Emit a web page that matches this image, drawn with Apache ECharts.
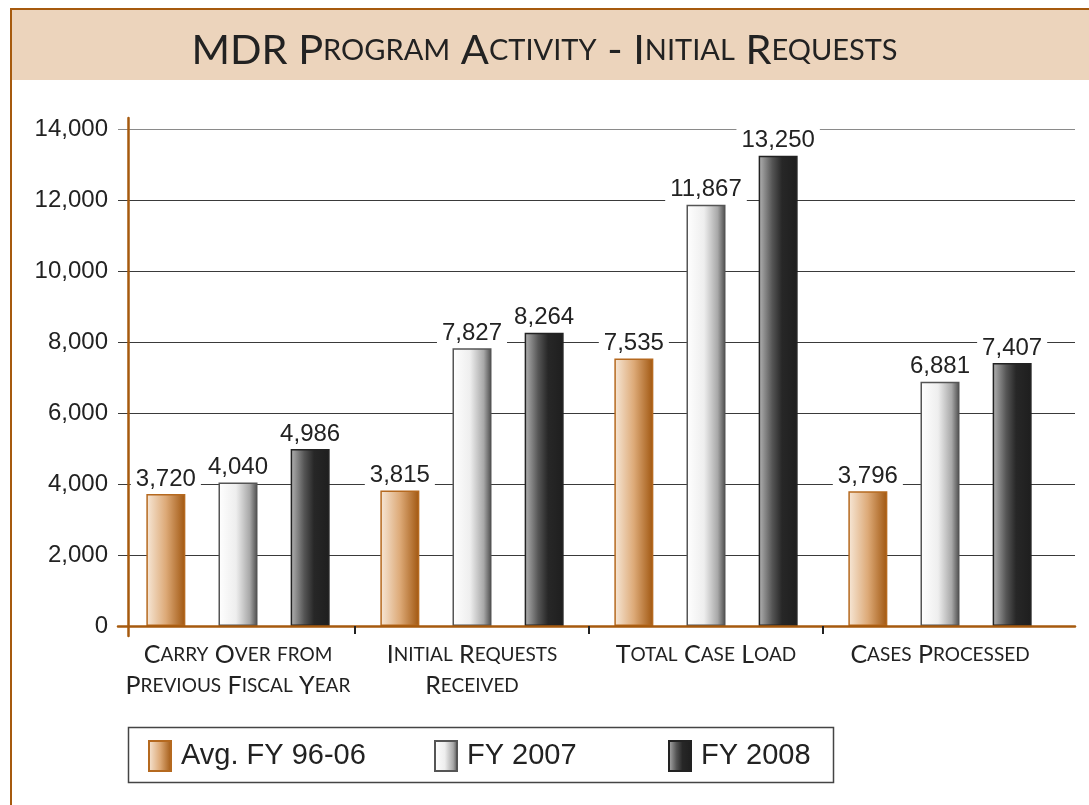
<!DOCTYPE html>
<html>
<head>
<meta charset="utf-8">
<script src="https://cdn.jsdelivr.net/npm/echarts@6/dist/echarts.min.js"></script>
<style>html,body{margin:0;padding:0;background:#fff;}#c{width:1089px;height:805px;}</style>
</head>
<body>
<div id="c"></div>
<script>
const titleText = 'MDR Program Activity - Initial Requests';
const categories = ['Carry Over from\nPrevious Fiscal Year', 'Initial Requests\nReceived', 'Total Case Load', 'Cases Processed'];
const seriesNames = ['Avg. FY 96-06', 'FY 2007', 'FY 2008'];
const avgValues = [3720, 3815, 7535, 3796];
const fy2007Values = [4040, 7827, 11867, 6881];
const fy2008Values = [4986, 8264, 13250, 7407];
const yMin = 0, yMax = 14000, yStep = 2000;

function smallCaps(str) {
  return str.split('\n').map(function (line) {
    let out = '', buf = '', mode = null;
    for (const ch of line) {
      const m = (ch >= 'a' && ch <= 'z') ? 's' : 'c';
      if (m !== mode) { if (buf) out += '{' + mode + '|' + buf + '}'; buf = ''; mode = m; }
      buf += ch.toUpperCase();
    }
    if (buf) out += '{' + mode + '|' + buf + '}';
    return out;
  }).join('\n');
}

const BROWN = '#A65A0E';
const SANS = '"Liberation Sans", Arial, sans-serif';
const FUT = 'Lato, "Noto Sans", sans-serif';

function grad(stops) {
  return { type: 'linear', x: 0, y: 0, x2: 1, y2: 0, colorStops: stops.map(function (s) { return { offset: s[0], color: s[1] }; }) };
}
const styles = [
  { color: grad([[0, '#F7E8D8'], [0.5, '#DDAA78'], [1, '#A0560F']]), borderColor: '#B5691F', borderWidth: 1.5 },
  { color: grad([[0, '#FFFFFF'], [0.45, '#EEEEEE'], [0.8, '#A8A8A8'], [1, '#4A4A4A']]), borderColor: '#555555', borderWidth: 1.5 },
  { color: grad([[0, '#B4B4B4'], [0.35, '#555555'], [0.6, '#272727'], [1, '#1E1E1E']]), borderColor: '#222222', borderWidth: 1.5 }
];
const valueSets = [avgValues, fy2007Values, fy2008Values];
const legendLefts = [148, 434, 668];

const splitColors = [];
for (let v = yMin; v <= yMax; v += yStep) splitColors.push(v === yMax ? '#8a8a8a' : '#3a3a3a');

// inner category boundaries (between categories 1..n-1), used only for separator ticks
const boundaryMin = 1, boundaryMax = categories.length - 1;

const chart = echarts.init(document.getElementById('c'), null, { renderer: 'canvas' });
chart.setOption({
  backgroundColor: '#ffffff',
  animation: false,
  graphic: [
    { type: 'rect', z: -10, shape: { x: 12, y: 10, width: 1077, height: 70 }, style: { fill: '#ECD4BC' } },
    { type: 'rect', z: -5, shape: { x: 10, y: 8, width: 1079, height: 2 }, style: { fill: BROWN } },
    { type: 'rect', z: -5, shape: { x: 10, y: 8, width: 2, height: 797 }, style: { fill: BROWN } },
    { type: 'rect', z: -5, shape: { x: 128.5, y: 727.5, width: 705, height: 55 }, style: { fill: 'none', stroke: '#444', lineWidth: 1.5 } }
  ],
  title: {
    text: smallCaps(titleText),
    left: 'center',
    top: 25,
    textStyle: {
      color: '#222',
      fontWeight: 'normal',
      rich: {
        c: { fontSize: 41.5, fontFamily: FUT, fontWeight: 'normal', color: '#222' },
        s: { fontSize: 29, fontFamily: FUT, fontWeight: 'normal', color: '#222' }
      }
    }
  },
  legend: seriesNames.map(function (name, i) {
    return {
      data: [name],
      left: legendLefts[i],
      top: 740,
      padding: 0,
      itemWidth: 22,
      itemHeight: 30,
      icon: 'rect',
      textStyle: { fontSize: 29, fontFamily: SANS, color: '#222', padding: [0, 0, 0, 5] }
    };
  }),
  grid: [
    { left: 121, right: 32, top: 129, bottom: 179 },
    { left: 118, right: 14, top: 129, bottom: 179 },
    { left: 128, width: 1, top: 118, bottom: 169 },
    { left: 355, right: 266, top: 129, bottom: 179 }
  ],
  xAxis: [
    {
      gridIndex: 0, type: 'category', data: categories,
      axisLine: { show: false },
      axisTick: { show: false },
      axisLabel: {
        interval: 0, margin: 13, color: '#222',
        formatter: function (v) { return smallCaps(v); },
        rich: {
          c: { fontSize: 25, fontFamily: FUT, color: '#222', lineHeight: 31 },
          s: { fontSize: 19, fontFamily: FUT, color: '#222', lineHeight: 31 }
        }
      }
    },
    {
      gridIndex: 1, type: 'value', min: 0, max: 1, z: 3,
      axisLine: { show: true, lineStyle: { color: BROWN, width: 2.5 } },
      axisTick: { show: false }, axisLabel: { show: false }, splitLine: { show: false }
    },
    { gridIndex: 2, type: 'value', show: false },
    {
      gridIndex: 3, type: 'value', min: boundaryMin, max: boundaryMax, interval: 1, z: 3,
      axisLine: { show: false },
      axisTick: { show: true, length: 8, lineStyle: { color: '#222', width: 2 } },
      axisLabel: { show: false }, splitLine: { show: false }
    }
  ],
  yAxis: [
    {
      gridIndex: 0, type: 'value', min: yMin, max: yMax, interval: yStep,
      axisLine: { show: false }, axisTick: { show: false }, splitLine: { show: false },
      axisLabel: { margin: 13, fontSize: 24, fontFamily: SANS, color: '#222', formatter: function (v) { return v.toLocaleString('en-US'); } }
    },
    {
      gridIndex: 1, type: 'value', min: yMin, max: yMax, interval: yStep,
      axisLine: { show: false }, axisTick: { show: false }, axisLabel: { show: false },
      splitLine: { show: true, lineStyle: { color: splitColors, width: 1.2 } }
    },
    {
      gridIndex: 2, type: 'value', min: 0, max: 1, z: 3,
      axisLine: { show: true, lineStyle: { color: BROWN, width: 2.5 } },
      axisTick: { show: false }, axisLabel: { show: false }, splitLine: { show: false }
    },
    { gridIndex: 3, type: 'value', min: 0, max: 1, show: false }
  ],
  series: seriesNames.map(function (name, i) {
    return {
      name: name,
      type: 'bar',
      xAxisIndex: 0, yAxisIndex: 0,
      data: valueSets[i],
      barWidth: 39,
      barGap: '85%',
      itemStyle: styles[i],
      label: {
        show: true, position: 'top', distance: 3,
        fontSize: 24, fontFamily: SANS, color: '#222',
        backgroundColor: '#fff', padding: [0, 5],
        formatter: function (p) { return p.value.toLocaleString('en-US'); }
      }
    };
  })
});
</script>
</body>
</html>
